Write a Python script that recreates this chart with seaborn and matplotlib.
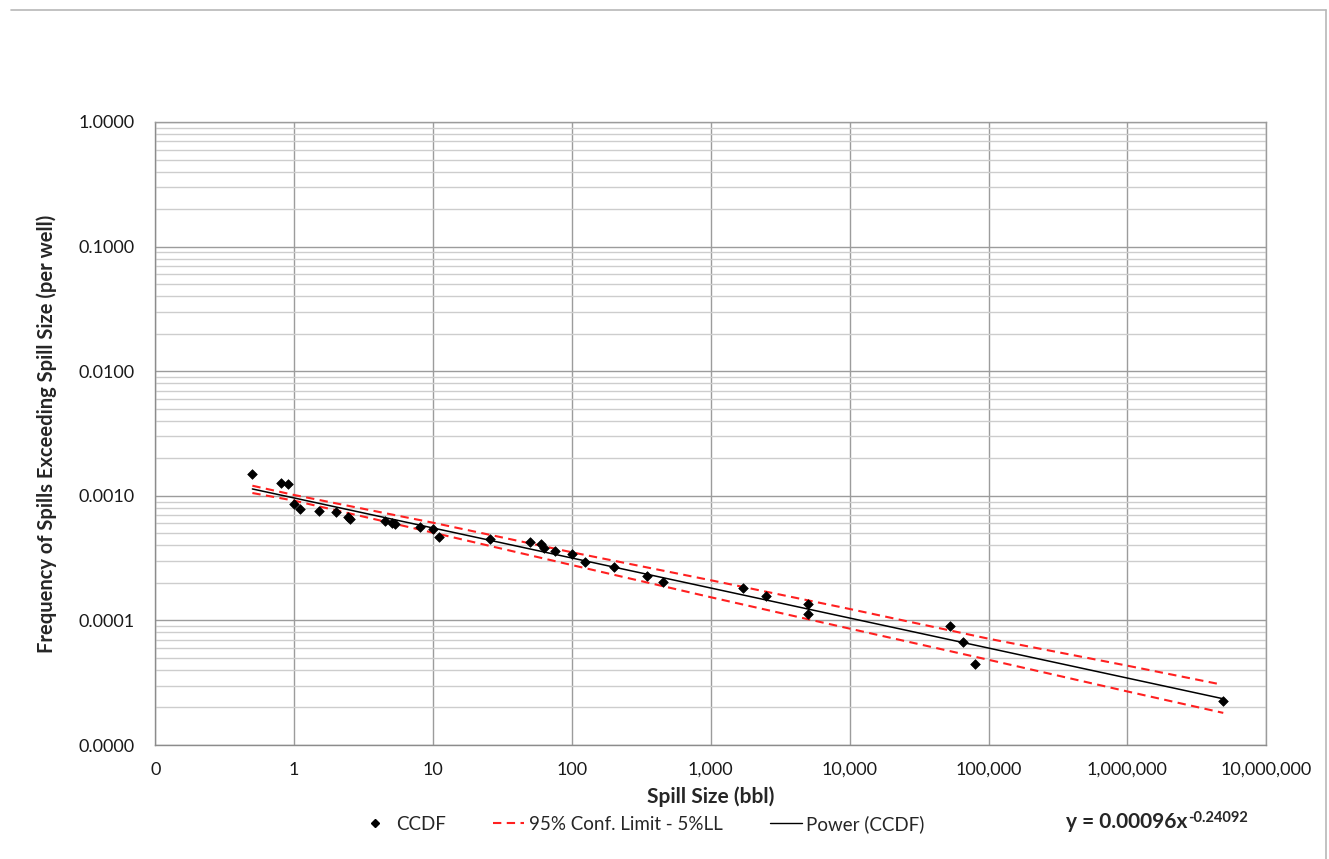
import numpy as np
import pandas as pd
import seaborn as sns
import matplotlib.pyplot as plt
from matplotlib.lines import Line2D
from matplotlib.ticker import FixedLocator, FixedFormatter, LogLocator, NullLocator, NullFormatter

# Data
spill_size = [0.5, 0.8, 0.9, 1.0, 1.1, 1.5, 2.0, 2.45, 2.51, 4.5, 5.1, 5.35, 8, 10, 11,
              25.5, 50, 60, 63, 75, 100, 125, 200, 350, 450, 1700, 2500, 5000, 5000,
              52600, 65000, 80000, 4.89e6]
ccdf = [0.00149, 0.00126, 0.00125, 0.00086, 0.00078, 0.00076, 0.00074, 0.000676, 0.000651,
        0.00063, 0.00061, 0.00059, 0.000565, 0.00054, 0.00047, 0.00045, 0.000428, 0.000408,
        0.000383, 0.000362, 0.000339, 0.000292, 0.000268, 0.000227, 0.000203, 0.000181,
        0.000158, 0.000135, 0.000112, 0.0000895, 0.0000673, 0.0000448, 0.0000224]

upper_x = [0.5, 1, 10, 100, 1000, 1e4, 1e5, 1e6, 4.6e6]
upper_y = [0.001205, 0.001015, 0.000608, 0.000352, 0.000210, 0.0001235, 0.0000713,
           0.0000433, 0.0000308]
lower_x = [0.5, 1, 10, 100, 1000, 1e4, 1e5, 1e6, 4.9e6]
lower_y = [0.001053, 0.000914, 0.000506, 0.000278, 0.0001534, 0.0000859, 0.0000483,
           0.0000269, 0.0000181]

fit_x = [0.5, 4.89e6]
fit_y = [0.001135, 0.0000235]

x_ticks = [0.1, 1, 10, 100, 1e3, 1e4, 1e5, 1e6, 1e7]
x_labels = ["0", "1", "10", "100", "1,000", "10,000", "100,000", "1,000,000", "10,000,000"]
y_ticks = [1e-5, 1e-4, 1e-3, 1e-2, 1e-1, 1]
y_labels = ["0.0000", "0.0001", "0.0010", "0.0100", "0.1000", "1.0000"]

sns.set_theme(style="white")
plt.rcParams['font.family'] = ['Lato', 'DejaVu Sans']

pts = pd.DataFrame({"x": spill_size, "y": ccdf})
up = pd.DataFrame({"x": upper_x, "y": upper_y})
lo = pd.DataFrame({"x": lower_x, "y": lower_y})
fit = pd.DataFrame({"x": fit_x, "y": fit_y})

fig = plt.figure(figsize=(13.29, 8.59), dpi=100)
ax = fig.add_axes([155.3 / 1329, 1 - 745 / 859, 1111 / 1329, 623 / 859])
ax.set_xscale("log")
ax.set_yscale("log")

red = "#ff2020"
dash = (0, (4, 2.6))
sns.lineplot(data=up, x="x", y="y", ax=ax, color=red, lw=1.5, linestyle=dash, zorder=3)
sns.lineplot(data=lo, x="x", y="y", ax=ax, color=red, lw=1.5, linestyle=dash, zorder=3)
sns.lineplot(data=fit, x="x", y="y", ax=ax, color="black", lw=1.1, zorder=4)
sns.scatterplot(data=pts, x="x", y="y", ax=ax, marker="D", s=24, color="black",
                edgecolor="black", linewidth=0.5, zorder=5)

ax.set_xlim(0.1, 1e7)
ax.set_ylim(1e-5, 1)

ax.xaxis.set_major_locator(FixedLocator(x_ticks))
ax.xaxis.set_major_formatter(FixedFormatter(x_labels))
ax.xaxis.set_minor_locator(NullLocator())
ax.yaxis.set_major_locator(FixedLocator(y_ticks))
ax.yaxis.set_major_formatter(FixedFormatter(y_labels))
ax.yaxis.set_minor_locator(LogLocator(base=10, subs=np.arange(2, 10), numticks=50))
ax.yaxis.set_minor_formatter(NullFormatter())

ax.grid(which="major", axis="both", color="#9c9c9c", lw=1.0)
ax.grid(which="minor", axis="y", color="#cdcdcd", lw=1.0)
ax.set_axisbelow(True)

for side in ["top", "right"]:
    ax.spines[side].set_color("#9c9c9c")
    ax.spines[side].set_linewidth(1.0)
for side in ["left", "bottom"]:
    ax.spines[side].set_color("#8c8c8c")
    ax.spines[side].set_linewidth(1.0)

ax.tick_params(axis="x", which="both", length=0, pad=12, labelsize=13, labelcolor="#1a1a1a")
ax.tick_params(axis="y", which="major", length=6, width=1, color="#8c8c8c", direction="out",
               pad=9, labelsize=13, labelcolor="#1a1a1a")
ax.tick_params(axis="y", which="minor", length=0)

ax.set_xlabel("Spill Size (bbl)", fontsize=15, fontweight="bold", va="center")
ax.xaxis.set_label_coords(0.5, (745 - 797) / 623)
ax.set_ylabel("Frequency of Spills Exceeding Spill Size (per well)", fontsize=14.5,
              fontweight="bold", va="center")
ax.yaxis.set_label_coords((47 - 155.3) / 1111, 0.5)

handles = [
    Line2D([], [], ls="none", marker="D", markersize=4.2, color="black"),
    Line2D([], [], color=red, lw=1.5, linestyle=dash),
    Line2D([], [], color="black", lw=1.0),
]
labels = ["CCDF", "95% Conf. Limit - 5%LL", "Power (CCDF)"]
fig.legend(handles, labels, loc="center", bbox_to_anchor=(642 / 1329, 1 - 824 / 859),
           ncol=3, frameon=False, fontsize=13.5, handlelength=1.7, handletextpad=0.25,
           columnspacing=2.5, borderaxespad=0)

# trendline equation with superscript exponent
eq = fig.text(1066 / 1329, 1 - 828.3 / 859, "y = 0.00096x", fontsize=15,
              fontweight="bold", ha="left", va="baseline")
fig.canvas.draw()
bb = eq.get_window_extent(fig.canvas.get_renderer())
fig.text(bb.x1 / 1329 + 0.0008, 1 - 822 / 859, "-0.24092", fontsize=10.5,
         fontweight="bold", ha="left", va="baseline")

# chart area border (top and right visible)
fig.add_artist(Line2D([11 / 1329, 1325.7 / 1329], [1 - 10 / 859, 1 - 10 / 859],
                      transform=fig.transFigure, color="#b8b8b8", lw=1.2))
fig.add_artist(Line2D([1325.7 / 1329, 1325.7 / 1329], [1 - 10 / 859, 0],
                      transform=fig.transFigure, color="#b8b8b8", lw=1.2))

fig.savefig("out.png", dpi=100)
plt.close(fig)
